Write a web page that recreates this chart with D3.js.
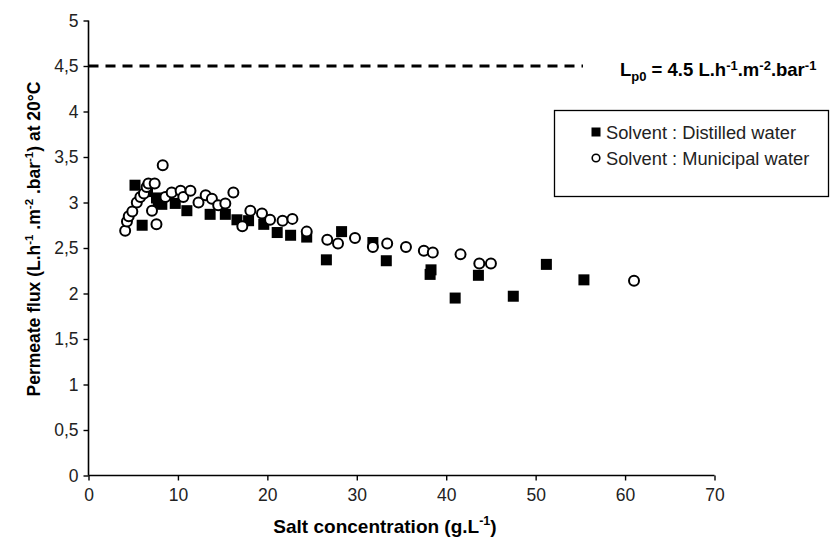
<!DOCTYPE html>
<html>
<head>
<meta charset="utf-8">
<script src="https://cdn.jsdelivr.net/npm/d3@7"></script>
<style>
  html, body { margin: 0; padding: 0; background: #fff; }
  svg { display: block; font-family: "Liberation Sans", Arial, sans-serif; }
</style>
</head>
<body>
<svg id="chart" width="831" height="543"></svg>
<script>
// Salt concentration (g/L) vs. permeate flux (L.h-1.m-2.bar-1) at 20°C
const distilledWater = [
  [5.2, 3.19], [6.0, 2.75], [6.6, 3.12], [7.6, 3.05], [7.8, 3.00], [8.2, 2.98],
  [9.7, 2.99], [11.0, 2.91], [13.6, 2.87], [15.3, 2.87], [16.6, 2.81],
  [17.9, 2.80], [19.6, 2.76], [21.1, 2.67], [22.6, 2.64], [24.4, 2.62],
  [26.6, 2.37], [28.3, 2.68], [31.8, 2.56], [33.3, 2.36], [38.3, 2.26],
  [38.2, 2.21], [41.0, 1.95], [43.6, 2.20], [47.5, 1.97], [51.2, 2.32],
  [55.4, 2.15]
];
const municipalWater = [
  [4.1, 2.69], [4.3, 2.79], [4.5, 2.85], [4.9, 2.90], [5.4, 3.00], [5.8, 3.06],
  [6.2, 3.10], [6.5, 3.17], [6.7, 3.21], [7.4, 3.21], [7.1, 2.91], [7.6, 2.76],
  [8.3, 3.41], [8.6, 3.06], [9.3, 3.11], [10.3, 3.13], [10.6, 3.06], [11.4, 3.13],
  [12.3, 3.00], [13.1, 3.08], [13.8, 3.04], [14.5, 2.97], [15.3, 2.99],
  [16.2, 3.11], [17.2, 2.74], [18.1, 2.91], [19.4, 2.88], [20.3, 2.81],
  [21.7, 2.80], [22.8, 2.82], [24.4, 2.68], [26.7, 2.59], [27.9, 2.55],
  [29.8, 2.61], [31.8, 2.51], [33.4, 2.55], [35.5, 2.51], [37.5, 2.47],
  [38.5, 2.45], [41.6, 2.43], [43.7, 2.33], [45.0, 2.33], [61.0, 2.14]
];
const xTicks = [0, 10, 20, 30, 40, 50, 60, 70];
const yTicks = [0, 0.5, 1, 1.5, 2, 2.5, 3, 3.5, 4, 4.5, 5];
const referenceFlux = 4.5;
const legendLabels = ["Solvent : Distilled water", "Solvent : Municipal water"];

const svg = d3.select("#chart");
const x = d3.scaleLinear().domain([0, 70]).range([88.5, 714.5]);
const y = d3.scaleLinear().domain([0, 5]).range([475.5, 20.5]);
const fmt = d => String(d).replace(".", ",");

// reference line for pure-water permeability
svg.append("line")
  .attr("x1", x(0)).attr("x2", 583)
  .attr("y1", y(referenceFlux)).attr("y2", y(referenceFlux))
  .attr("stroke", "#000").attr("stroke-width", 3)
  .attr("stroke-dasharray", "10,7");

const lp = svg.append("text")
  .attr("x", 620).attr("y", 76)
  .attr("font-size", 18.5).attr("font-weight", "bold");
lp.append("tspan").text("L");
lp.append("tspan").attr("font-size", 13).attr("dy", 5).text("p0");
lp.append("tspan").attr("dy", -5).text(" = 4.5 L.h");
lp.append("tspan").attr("font-size", 13).attr("dy", -6).text("-1");
lp.append("tspan").attr("dy", 6).text(".m");
lp.append("tspan").attr("font-size", 13).attr("dy", -6).text("-2");
lp.append("tspan").attr("dy", 6).text(".bar");
lp.append("tspan").attr("font-size", 13).attr("dy", -6).text("-1");

// axes
const xAxis = svg.append("g")
  .attr("transform", `translate(0,${y(0)})`)
  .call(d3.axisBottom(x).tickValues(xTicks).tickSize(5).tickPadding(8).tickFormat(fmt));
const yAxis = svg.append("g")
  .attr("transform", `translate(${x(0)},0)`)
  .call(d3.axisLeft(y).tickValues(yTicks).tickSize(5).tickPadding(5).tickFormat(fmt));
[xAxis, yAxis].forEach(g => {
  g.selectAll(".tick line").attr("stroke-width", 1.4);
  g.selectAll("text").attr("font-size", 17.5).attr("font-family", "Liberation Sans, Arial, sans-serif").attr("fill", "#222");
});
xAxis.select(".domain").attr("stroke-width", 1.6).attr("d", `M${x(0)},0H${x(70)}`);
yAxis.select(".domain").attr("stroke-width", 1.6).attr("d", `M0,${y(0)}V${y(5)}`);

// data marks
const sq = 11;
svg.append("g").selectAll("rect").data(distilledWater).join("rect")
  .attr("x", d => x(d[0]) - sq / 2).attr("y", d => y(d[1]) - sq / 2)
  .attr("width", sq).attr("height", sq).attr("fill", "#000");
svg.append("g").selectAll("circle").data(municipalWater).join("circle")
  .attr("cx", d => x(d[0])).attr("cy", d => y(d[1])).attr("r", 5)
  .attr("fill", "#fff").attr("stroke", "#000").attr("stroke-width", 2);

// legend
const legend = svg.append("g");
legend.append("rect").attr("x", 554.5).attr("y", 110.5).attr("width", 274).attr("height", 86)
  .attr("fill", "#fff").attr("stroke", "#000").attr("stroke-width", 1.3);
legend.append("rect").attr("x", 591.5).attr("y", 127.5).attr("width", 9).attr("height", 9).attr("fill", "#000");
legend.append("circle").attr("cx", 596).attr("cy", 158).attr("r", 3.8)
  .attr("fill", "#fff").attr("stroke", "#000").attr("stroke-width", 1.6);
legend.selectAll("text.lbl").data(legendLabels).join("text").attr("class", "lbl")
  .attr("x", 606).attr("y", (d, i) => 139 + i * 26)
  .attr("font-size", 18.3).attr("fill", "#222").text(d => d);

// axis titles
const xt = svg.append("text").attr("x", 385).attr("y", 533)
  .attr("text-anchor", "middle").attr("font-size", 19).attr("font-weight", "bold");
xt.append("tspan").text("Salt concentration (g.L");
xt.append("tspan").attr("font-size", 12.5).attr("dy", -8).text("-1");
xt.append("tspan").attr("dy", 8).text(")");

const yt = svg.append("text").attr("transform", "translate(40,239) rotate(-90)")
  .attr("text-anchor", "middle").attr("font-size", 17.5).attr("font-weight", "bold");
yt.append("tspan").text("Permeate flux (L.h");
yt.append("tspan").attr("font-size", 11.5).attr("dy", -7).text("-1");
yt.append("tspan").attr("dy", 7).text(" .m");
yt.append("tspan").attr("font-size", 11.5).attr("dy", -7).text("-2");
yt.append("tspan").attr("dy", 7).text(" .bar");
yt.append("tspan").attr("font-size", 11.5).attr("dy", -7).text("-1");
yt.append("tspan").attr("dy", 7).text(") at 20°C");
</script>
</body>
</html>
